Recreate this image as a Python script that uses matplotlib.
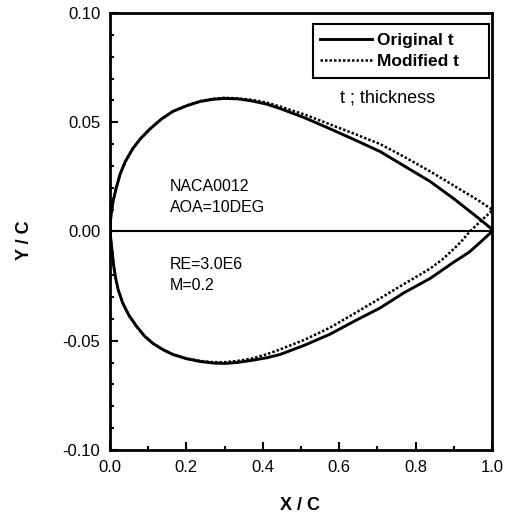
import numpy as np
import matplotlib.pyplot as plt
from matplotlib.patches import Rectangle

# Original section contour (upper / lower surface)
x_up = [0.0, 0.001, 0.003, 0.008, 0.015, 0.026, 0.04, 0.06, 0.08, 0.105,
        0.135, 0.165, 0.20, 0.236, 0.27, 0.30, 0.335, 0.37, 0.41, 0.445,
        0.51, 0.576, 0.64, 0.707, 0.77, 0.838, 0.90, 0.94, 0.969, 1.0]
y_up = [0.0, 0.004, 0.008, 0.0137, 0.019, 0.026, 0.032, 0.038, 0.0425, 0.047,
        0.0515, 0.055, 0.0575, 0.0595, 0.0605, 0.0609, 0.0607, 0.0598, 0.0583, 0.0563,
        0.052, 0.047, 0.042, 0.0366, 0.030, 0.0229, 0.015, 0.0095, 0.0055, 0.001]
x_lo = [0.0, 0.003, 0.006, 0.010, 0.015, 0.022, 0.034, 0.05, 0.07, 0.09,
        0.113, 0.14, 0.165, 0.20, 0.236, 0.27, 0.30, 0.335, 0.37, 0.41,
        0.445, 0.51, 0.576, 0.64, 0.707, 0.77, 0.838, 0.90, 0.94, 0.969, 1.0]
y_lo = [0.0, -0.005, -0.010, -0.016, -0.0215, -0.027, -0.033, -0.0385, -0.0435, -0.0478,
        -0.0513, -0.0542, -0.0563, -0.0582, -0.0595, -0.0602, -0.0604, -0.0599, -0.059, -0.0578,
        -0.0563, -0.052, -0.047, -0.041, -0.035, -0.028, -0.0215, -0.014, -0.0095, -0.005, 0.0]

# Modified thickness contour
xm_up = [0.0, 0.001, 0.003, 0.008, 0.015, 0.026, 0.04, 0.06, 0.08, 0.105,
         0.135, 0.165, 0.20, 0.236, 0.27, 0.30, 0.335, 0.37, 0.41, 0.445,
         0.51, 0.576, 0.64, 0.707, 0.77, 0.838, 0.90, 0.94, 0.969, 1.0]
ym_up = [0.0, 0.004, 0.008, 0.0137, 0.019, 0.026, 0.032, 0.038, 0.0425, 0.047,
         0.0515, 0.055, 0.0576, 0.0597, 0.0607, 0.0612, 0.0609, 0.0603, 0.0590, 0.0572,
         0.0535, 0.049, 0.0447, 0.040, 0.0342, 0.0275, 0.021, 0.0168, 0.0137, 0.010]
xm_lo = [0.0, 0.003, 0.006, 0.010, 0.015, 0.022, 0.034, 0.05, 0.07, 0.09,
         0.113, 0.14, 0.165, 0.20, 0.236, 0.27, 0.30, 0.335, 0.37, 0.41,
         0.445, 0.51, 0.576, 0.64, 0.707, 0.77, 0.838, 0.87, 0.90, 0.92,
         0.942, 0.96, 0.975, 1.0]
ym_lo = [0.0, -0.005, -0.010, -0.016, -0.0215, -0.027, -0.033, -0.0385, -0.0435, -0.0478,
         -0.0513, -0.0542, -0.0563, -0.0581, -0.0592, -0.0598, -0.0598, -0.0592, -0.0582, -0.0562,
         -0.054, -0.0495, -0.044, -0.0375, -0.0306, -0.024, -0.017, -0.0128, -0.008, -0.0045,
         0.0, 0.003, 0.0055, 0.0095]

plt.rcParams['font.family'] = 'Liberation Sans'
plt.rcParams['font.size'] = 12

fig = plt.figure(figsize=(5.08, 5.13), dpi=100)
ax = fig.add_axes([0.2165, 0.1228, 0.752, 0.8519])

ax.plot(x_up + x_lo[::-1], y_up + y_lo[::-1], color='black', lw=2.1,
        label='Original t')
ax.plot(xm_up + xm_lo[::-1], ym_up + ym_lo[::-1], color='black', lw=1.8,
        ls=(0, (1, 0.8)), label='Modified t')
ax.axhline(0, color='black', lw=1.5)

ax.set_xlim(0, 1.0)
ax.set_ylim(-0.10, 0.10)
ax.set_xticks(np.arange(0, 1.01, 0.2))
ax.set_xticks(np.arange(0, 1.01, 0.1), minor=True)
ax.set_yticks([-0.10, -0.05, 0.0, 0.05, 0.10])
ax.set_yticks(np.arange(-0.10, 0.101, 0.01), minor=True)
ax.xaxis.set_major_formatter(plt.FormatStrFormatter('%.1f'))
ax.yaxis.set_major_formatter(plt.FormatStrFormatter('%.2f'))
ax.tick_params(which='both', direction='in', top=False, right=False, width=1.5)
ax.tick_params(which='major', length=6, labelsize=12, pad=7)
ax.tick_params(which='minor', length=3)
for s in ax.spines.values():
    s.set_linewidth(2)

ax.set_xlabel('X / C', fontsize=13, fontweight='bold')
ax.set_ylabel('Y / C', fontsize=13, fontweight='bold')
ax.xaxis.set_label_coords(0.497, -0.1075)
ax.yaxis.set_label_coords(-0.201, 0.48)

# legend box drawn separately so it can be wider than its entries
ax.add_patch(Rectangle((0.531, 0.851), 0.461, 0.124, transform=ax.transAxes,
                       fill=False, edgecolor='black', lw=1.5, zorder=5))
ax.legend(loc='center left', bbox_to_anchor=(0.5497, 0.913), frameon=False,
          borderpad=0, borderaxespad=0, handlelength=3.0, handletextpad=0.3,
          labelspacing=0.3, prop={'size': 12.5, 'weight': 'bold'})

ax.text(0.727, 0.061, 't ; thickness', fontsize=13, ha='center', va='center')
ax.text(0.157, 0.0158, 'NACA0012\nAOA=10DEG', fontsize=11.5, va='center',
        linespacing=1.5)
ax.text(0.157, -0.0199, 'RE=3.0E6\nM=0.2', fontsize=11.5, va='center',
        linespacing=1.5)

fig.savefig('out.png', dpi=100)
